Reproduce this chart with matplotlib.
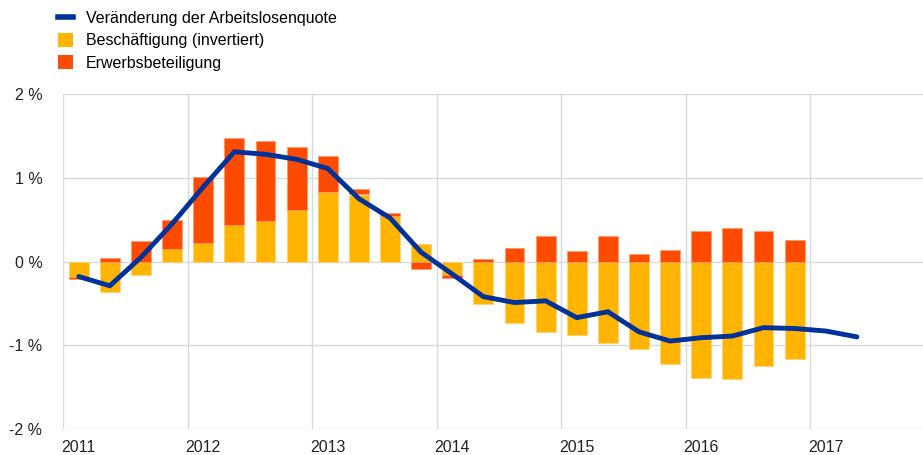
import matplotlib
matplotlib.use("Agg")
import matplotlib.pyplot as plt
from matplotlib.patches import Patch
from matplotlib.lines import Line2D
import numpy as np

plt.rcParams['font.family'] = ['Liberation Sans', 'DejaVu Sans']

# Quarterly data, 2011 Q1 ...
employment = [-0.19, -0.37, -0.16, 0.15, 0.22, 0.43, 0.48, 0.61,
              0.83, 0.80, 0.54, 0.21, -0.16, -0.51, -0.73, -0.84,
              -0.88, -0.97, -1.05, -1.22, -1.39, -1.40, -1.25, -1.16]
participation = [-0.02, 0.04, 0.24, 0.34, 0.79, 1.04, 0.96, 0.755,
                 0.43, 0.06, 0.035, -0.09, -0.035, 0.025, 0.16, 0.31,
                 0.12, 0.30, 0.09, 0.14, 0.36, 0.40, 0.36, 0.26]
unemployment_change = [-0.18, -0.29, 0.05, 0.45, 0.89, 1.31, 1.28, 1.22,
                       1.11, 0.75, 0.52, 0.11, -0.15, -0.42, -0.49, -0.47,
                       -0.67, -0.60, -0.84, -0.95, -0.91, -0.89, -0.79, -0.80,
                       -0.83, -0.90]
years = [2011, 2012, 2013, 2014, 2015, 2016, 2017]
y_ticks = [-2, -1, 0, 1, 2]
y_labels = ['-2 %', '-1 %', '0 %', '1 %', '2 %']
legend_labels = ['Veränderung der Arbeitslosenquote', 'Beschäftigung (invertiert)', 'Erwerbsbeteiligung']

BLUE = '#003299'
YELLOW = '#FFB400'
ORANGE = '#FF4B00'
GRID = '#d9d9d9'
FS = 11.5

fig = plt.figure(figsize=(9.23, 4.55), dpi=100)
ax = fig.add_axes([63.2 / 923, 26 / 455, 1 - 63.2 / 923, 335 / 455])

xb = 2011 + (np.arange(len(employment)) + 0.5) / 4
xl = 2011 + (np.arange(len(unemployment_change)) + 0.5) / 4
emp = np.array(employment)
par = np.array(participation)
w = 0.16

ax.bar(xb, emp, width=w, color=YELLOW, edgecolor='#ffd27a', linewidth=0.6, zorder=2)
base = np.where(np.sign(par) == np.sign(emp), emp, 0.0)
ax.bar(xb, par, width=w, bottom=base, color=ORANGE, edgecolor='#ff9a70', linewidth=0.6, zorder=2)
ax.plot(xl, unemployment_change, color=BLUE, lw=3.5, solid_capstyle='round', solid_joinstyle='miter', zorder=3)

ax.set_xlim(2011, 2011 + (923 - 63.2) / 124.5)
ax.set_ylim(-2, 2)
ax.set_yticks(y_ticks)
ax.set_yticklabels(y_labels)
ax.set_xticks(years)
ax.set_xticklabels([])
for yr in years:
    ax.text(yr + 0.125, -2.13, str(yr), ha='center', va='top', fontsize=FS, color='#222222')
ax.tick_params(axis='both', length=0, labelsize=FS, colors='#222222', pad=15)
ax.grid(True, color=GRID, lw=1.0, zorder=0)
ax.set_axisbelow(True)
for s in ax.spines.values():
    s.set_visible(False)

handles = [Line2D([0], [0], color=BLUE, lw=4),
           Patch(facecolor=YELLOW, edgecolor='none'),
           Patch(facecolor=ORANGE, edgecolor='none')]
fig.legend(handles, legend_labels, loc='upper left', bbox_to_anchor=(58 / 923, 1 - 11 / 455),
           frameon=False, fontsize=FS, handlelength=0.95, handleheight=0.95,
           handletextpad=0.8, labelspacing=0.42, borderaxespad=0, borderpad=0)

fig.savefig('out.png', dpi=100)
